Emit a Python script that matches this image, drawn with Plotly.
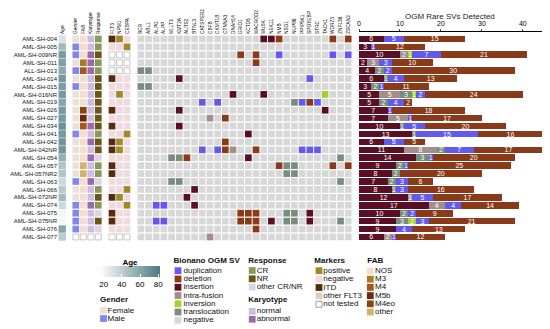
import plotly.graph_objects as go

# ---------------- data ----------------
SAMPLES = ["AML-SH-004", "AML-SH-005", "AML-SH-009NR", "AML-SH-011", "ALL-SH-013",
           "AML-SH-014", "AML-SH-015", "AML-SH-016NR", "AML-SH-019", "AML-SH-026",
           "AML-SH-027", "AML-SH-034", "AML-SH-041", "AML-SH-042", "AML-SH-042NR",
           "AML-SH-054", "AML-SH-057", "AML-SH-057NR2", "AML-SH-063", "AML-SH-066",
           "AML-SH-072NR", "AML-SH-074", "AML-SH-075", "AML-SH-075NR", "AML-SH-076",
           "AML-SH-077"]

AGE = [30, 50, 65, 63, 58, 66, 64, 66, 60, 66, 66, 70, 67, 68, 68, 55, 45, 45, 35, 42,
       50, 35, 20, 20, 60, 42]
GENDER = ["F", "M", "M", "F", "M", "F", "M", "F", "F", "F", "F", "F", "M", "F", "F", "F",
          "F", "F", "M", "F", "F", "M", "M", "M", "M", None]
FAB = ["NOS", "NOS", "NOS", "M3", "M4", "NOS", "NOS", "NOS", "NOS", "M4eo", "M5b", "M4",
       "NOS", "NOS", "NOS", "NOS", "other", "other", "NOS", "NOS", "NOS", "NOS", "NOS",
       "NOS", "NOS", None]
KARYOTYPE = ["normal", "normal", "abnormal", "abnormal", "abnormal", "normal", "normal",
             "normal", "normal", "normal", "normal", "abnormal", "normal", "abnormal",
             "normal", "abnormal", "normal", "normal", "abnormal", "normal", "normal",
             "abnormal", "normal", "normal", "normal", None]
RESPONSE = ["CR", "CR", "NR", "CR", "CR", "NR", "NR", "NR", "NR", "NR", "NR", "NR", "CR",
            "NR", "NR", "other CR/NR", "CR", "CR", "other CR/NR", "CR", "NR", "CR",
            "other CR/NR", "NR", "other CR/NR", None]
FLT3 = ["ITD", "negative", None, None, None, "ITD", "negative", "negative", "negative",
        "ITD", "negative", "ITD", "negative", "ITD", "ITD", "negative", "ITD", "ITD",
        "negative", "negative", "ITD", "negative", "ITD", "ITD", "negative", None]
NPM1 = ["positive", "negative", None, None, None, "negative", "negative", "positive",
        "negative", "negative", "negative", "negative", "negative", "positive", "positive",
        "negative", "negative", "negative", "negative", "negative", "positive", "negative",
        "negative", "negative", "negative", None]
CEBPA = ["negative", "positive", None, None, None, "negative", "negative", "negative",
         "negative", "negative", "negative", "negative", "positive", "negative", "negative",
         "negative", "negative", "negative", "negative", "positive", "negative", "positive",
         "negative", "negative", "negative", None]

GENES = ["BCR", "ABL1", "ALPG", "ALPP", "MLLT3", "KMT2A", "AUTS2", "BTNL3", "CATSPER2",
         "CBFB", "CKMT1B", "CTNNA3", "DNAH14", "GRID1", "KCTD5", "MACROD2", "MUSK",
         "NEK11", "NMB", "NSD1", "NUP98", "PPIP5K1", "SPOYEBP", "STRC", "TACK1", "WDR73",
         "ZNF138", "ZSCAN2"]

# SV calls per sample: gene:type (dup, del, ins, fus = intra-fusion, inv, tra)
SV_CALLS = [
    "MUSK:ins NEK11:ins NMB:del WDR73:del ZSCAN2:del",
    "",
    "GRID1:del MACROD2:del NMB:dup WDR73:dup ZSCAN2:dup",
    "MACROD2:del",
    "BCR:tra ABL1:tra",
    "KMT2A:ins SPOYEBP:dup",
    "BCR:tra ABL1:tra",
    "DNAH14:ins MUSK:ins TACK1:inv",
    "CATSPER2:dup CKMT1B:dup NUP98:tra PPIP5K1:dup SPOYEBP:del STRC:dup",
    "KMT2A:ins TACK1:ins",
    "CBFB:fus CTNNA3:del",
    "KMT2A:ins",
    "KCTD5:ins",
    "CTNNA3:del",
    "CATSPER2:dup CKMT1B:dup CTNNA3:del DNAH14:fus MACROD2:del PPIP5K1:dup SPOYEBP:dup STRC:dup",
    "MLLT3:tra KMT2A:tra AUTS2:del KCTD5:ins ZNF138:tra",
    "NMB:del NSD1:tra NUP98:tra WDR73:del ZSCAN2:del",
    "NSD1:tra NUP98:tra",
    "MLLT3:tra KMT2A:tra ZNF138:tra",
    "BTNL3:ins",
    "AUTS2:ins",
    "ALPG:dup ALPP:dup BTNL3:ins",
    "GRID1:del KCTD5:del MACROD2:del NSD1:tra NUP98:tra SPOYEBP:ins",
    "ALPG:dup ALPP:dup GRID1:del KCTD5:del MACROD2:del NEK11:ins NSD1:tra NUP98:tra SPOYEBP:ins ZNF138:tra",
    "MACROD2:del",
    "CBFB:fus",
]

# OGM rare SV counts per sample (bar chart)
SV_INSERTION = [6, 3, 10, 2, 4, 6, 3, 5, 5, 7, 7, 10, 13, 6, 11, 14, 9, 8, 7, 8, 12, 17, 10, 9, 9, 6]
SV_INTRAFUSION = [0, 0, 2, 3, 0, 0, 0, 5, 0, 0, 5, 0, 0, 0, 8, 0, 0, 0, 0, 0, 1, 4, 0, 0, 0, 2]
SV_TRANSLOCATION = [0, 0, 0, 0, 2, 1, 2, 3, 2, 0, 0, 1, 1, 0, 2, 3, 2, 2, 2, 1, 0, 0, 2, 3, 0, 0]
SV_INVERSION = [0, 0, 1, 0, 0, 0, 0, 1, 0, 0, 0, 0, 0, 0, 0, 0, 0, 0, 0, 0, 0, 0, 0, 2, 0, 0]
SV_DUPLICATION = [5, 1, 7, 3, 2, 4, 1, 2, 4, 1, 1, 5, 15, 5, 7, 1, 1, 0, 3, 3, 5, 4, 2, 3, 4, 1]
SV_DELETION = [15, 12, 21, 10, 30, 13, 11, 24, 2, 18, 17, 20, 16, 5, 17, 20, 25, 20, 6, 16, 17, 14, 9, 21, 13, 12]

AGE_TICKS = [20, 40, 60, 80]
BAR_TICKS = [0, 10, 20, 30, 40]

# ---------------- styles / layout ----------------
FONT = "Liberation Sans, Arial, sans-serif"
OX, OY = 8, 8            # page offset of the plot div (body margin)
FW, FH = 542, 321        # figure size so that it fits the 550x329 window
SV_COLORS = {"duplication": "#6359ee", "deletion": "#8a3a18", "insertion": "#5a0f25",
             "intra-fusion": "#a48d8d", "inversion": "#a3d12f", "translocation": "#798d7d",
             "negative": "#d7d7d7"}
SV_CODE = {"dup": "duplication", "del": "deletion", "ins": "insertion",
           "fus": "intra-fusion", "inv": "inversion", "tra": "translocation"}
GENDER_COLORS = {"F": "#ebe1d9", "M": "#8585ee"}
GENDER_NAMES = {"F": "Female", "M": "Male"}
FAB_COLORS = {"NOS": "#f4dccf", "M3": "#ad7a24", "M4": "#a9561e", "M5b": "#6a2a0c",
              "M4eo": "#874513", "other": "#d3b06c"}
KARYO_COLORS = {"normal": "#cdbde3", "abnormal": "#9c6aaa"}
RESP_COLORS = {"CR": "#8a9a5b", "NR": "#6b5417", "other CR/NR": "#dcd3ea"}
MARKER_COLORS = {"positive": "#a08a28", "negative": "#efdadf", "ITD": "#5a2a0a",
                 "other FLT3": "#d9cfca"}
AGE_SCALE = [[0, "#ffffff"], [1, "#4a7a80"]]


def pxx(px):
    return (px - OX) / FW


def pyy(py):
    return 1 - (py - OY) / FH


n = len(SAMPLES)
ROW_TOP = 35.0
ROW_PITCH = 7.92
GRID_LEFT_PX = 137.0
COL_PITCH = 7.68
CELL = 6.7
GRID_L, GRID_R = 58.0, 356.0


def gx(px):
    return (px - GRID_LEFT_PX) / COL_PITCH - 0.5


AGE_X = gx(62.2)
CLIN_NAMES = ["Gender", "FAB", "Karyotype", "Response"]
CLIN_X = [gx(75.8 + 7.5 * k) for k in range(4)]
MARK_NAMES = ["FLT3", "NPM1", "CEBPA"]
MARK_X = [gx(112.0 + 7.5 * k) for k in range(3)]
GENE_X = list(range(len(GENES)))
rows = list(range(n))

fig = go.Figure()

# Age column
fig.add_trace(go.Scatter(
    x=[AGE_X] * n, y=rows, mode="markers", hoverinfo="skip", showlegend=False,
    marker=dict(symbol="square", size=7.4, color=AGE, colorscale=AGE_SCALE, cmin=16, cmax=82,
                line=dict(width=0),
                colorbar=dict(orientation="h", x=pxx(130), xanchor="center", y=pyy(256.5),
                              yanchor="top", len=60, lenmode="pixels", thickness=11,
                              thicknessmode="pixels", outlinewidth=0, xpad=0, ypad=0,
                              title=dict(text="<b>Age</b>", side="top",
                                         font=dict(size=8, family=FONT, color="black")),
                              tickvals=AGE_TICKS, ticks="inside", tickcolor="white", ticklen=3,
                              tickfont=dict(size=8, family=FONT, color="black"))),
    xaxis="x", yaxis="y"))


def add_column(xval, values, palette):
    for cat, color in palette.items():
        r = [i for i, v in enumerate(values) if v == cat]
        if r:
            fig.add_trace(go.Scatter(x=[xval] * len(r), y=r, mode="markers", hoverinfo="skip",
                                     showlegend=False, xaxis="x", yaxis="y",
                                     marker=dict(symbol="square", size=CELL, color=color,
                                                 line=dict(width=0))))
    r = [i for i, v in enumerate(values) if v is None]
    if r:
        fig.add_trace(go.Scatter(x=[xval] * len(r), y=r, mode="markers", hoverinfo="skip",
                                 showlegend=False, xaxis="x", yaxis="y",
                                 marker=dict(symbol="square", size=CELL - 0.8, color="white",
                                             line=dict(width=0.7, color="#b0b0b0"))))


add_column(CLIN_X[0], GENDER, GENDER_COLORS)
add_column(CLIN_X[1], FAB, FAB_COLORS)
add_column(CLIN_X[2], KARYOTYPE, KARYO_COLORS)
add_column(CLIN_X[3], RESPONSE, RESP_COLORS)
add_column(MARK_X[0], FLT3, MARKER_COLORS)
add_column(MARK_X[1], NPM1, MARKER_COLORS)
add_column(MARK_X[2], CEBPA, MARKER_COLORS)

# gene grid
grid = [["negative"] * len(GENES) for _ in range(n)]
for i, calls in enumerate(SV_CALLS):
    for item in calls.split():
        g, t = item.split(":")
        grid[i][GENES.index(g)] = SV_CODE[t]
for cat, color in SV_COLORS.items():
    xs, ys = [], []
    for i in range(n):
        for j in range(len(GENES)):
            if grid[i][j] == cat:
                xs.append(GENE_X[j])
                ys.append(i)
    fig.add_trace(go.Scatter(x=xs, y=ys, mode="markers", hoverinfo="skip", showlegend=False,
                             xaxis="x", yaxis="y",
                             marker=dict(symbol="square", size=CELL, color=color,
                                         line=dict(width=0))))

# stacked bars
for name, vals in [("insertion", SV_INSERTION), ("intra-fusion", SV_INTRAFUSION),
                   ("translocation", SV_TRANSLOCATION), ("inversion", SV_INVERSION),
                   ("duplication", SV_DUPLICATION), ("deletion", SV_DELETION)]:
    fig.add_trace(go.Bar(
        y=rows, x=vals, orientation="h", name=name, showlegend=False, hoverinfo="skip",
        marker=dict(color=SV_COLORS[name], line=dict(width=0)),
        text=[str(v) if v else "" for v in vals], textposition="inside",
        insidetextanchor="middle", constraintext="none", textangle=0,
        textfont=dict(size=7, color="white", family=FONT),
        xaxis="x2", yaxis="y2"))

# legend blocks (drawn on an overlay axis in page-pixel units)
LEGENDS = [
    ("Gender", 100.0, 300.0, 103.5, 107.5, 310.5, 8.0,
     [(GENDER_NAMES[k], c, False) for k, c in GENDER_COLORS.items()]),
    ("Bionano OGM SV", 173.5, 261.0, 178.0, 183.5, 270.7, 8.27,
     [(k, c, False) for k, c in SV_COLORS.items()]),
    ("Response", 248.3, 261.0, 252.2, 256.7, 270.5, 8.3,
     [(k, c, False) for k, c in RESP_COLORS.items()]),
    ("Karyotype", 248.3, 300.3, 252.2, 256.7, 311.3, 8.0,
     [(k, c, False) for k, c in KARYO_COLORS.items()]),
    ("Markers", 314.3, 261.0, 319.0, 323.3, 270.7, 8.4,
     [(k, c, False) for k, c in MARKER_COLORS.items()] + [("not tested", "white", True)]),
    ("FAB", 367.3, 261.0, 370.3, 375.0, 271.0, 8.2,
     [(k, c, False) for k, c in FAB_COLORS.items()]),
]
tx, ty, tt = [], [], []
for title, tx0, ty0, sx, lx, y0, dy, items in LEGENDS:
    tx.append(tx0)
    ty.append(ty0)
    tt.append("<b>%s</b>" % title)
    for k, (label, color, outline) in enumerate(items):
        yy = y0 + dy * k
        fig.add_trace(go.Scatter(
            x=[sx], y=[yy], mode="markers", hoverinfo="skip", showlegend=False,
            xaxis="x3", yaxis="y3",
            marker=dict(symbol="square", size=6.8 if not outline else 6.0, color=color,
                        line=dict(width=0.8 if outline else 0, color="#888888"))))
        tx.append(lx)
        ty.append(yy)
        tt.append(label)
fig.add_trace(go.Scatter(x=tx, y=ty, text=tt, mode="text", textposition="middle right",
                         hoverinfo="skip", showlegend=False, xaxis="x3", yaxis="y3",
                         textfont=dict(size=8, family=FONT, color="#111111")))

grid_bottom = ROW_TOP + n * ROW_PITCH
bar_top_px = 32.0
fig.update_layout(
    width=FW, height=FH, margin=dict(l=0, r=0, t=0, b=0, autoexpand=False),
    paper_bgcolor="white", plot_bgcolor="rgba(0,0,0,0)",
    font=dict(family=FONT, color="black"),
    barmode="stack", bargap=0.16, showlegend=False,
    xaxis=dict(domain=[pxx(GRID_L), pxx(GRID_R)], range=[gx(GRID_L), gx(GRID_R)], anchor="y",
               side="top", tickvals=[AGE_X] + CLIN_X + MARK_X + GENE_X,
               ticktext=["Age"] + CLIN_NAMES + MARK_NAMES + GENES,
               tickangle=-90, tickfont=dict(size=4.8, family=FONT), ticks="", showgrid=False,
               zeroline=False, showline=False, automargin=False),
    yaxis=dict(domain=[pyy(grid_bottom), pyy(ROW_TOP)], range=[n - 0.5, -0.5],
               anchor="x", tickvals=rows, ticktext=SAMPLES,
               tickfont=dict(size=6.0, family=FONT, color="#111111"),
               ticks="", showgrid=False, zeroline=False, showline=False, automargin=False),
    xaxis2=dict(domain=[pxx(359), pxx(547)], range=[0, 45.9], anchor="y2", side="top",
                tickvals=BAR_TICKS, tickfont=dict(size=7, family=FONT), ticks="outside",
                ticklen=2, showline=True, linecolor="black", linewidth=1, showgrid=False,
                zeroline=False, automargin=False),
    yaxis2=dict(domain=[pyy(grid_bottom), pyy(bar_top_px)],
                range=[n - 0.5, -0.5 - (ROW_TOP - bar_top_px) / ROW_PITCH], anchor="x2",
                visible=False),
    xaxis3=dict(domain=[0, 1], range=[OX, OX + FW], anchor="y3", visible=False),
    yaxis3=dict(domain=[0, 1], range=[OY + FH, OY], anchor="x3", visible=False),
    annotations=[dict(text="OGM Rare SVs Detected", x=pxx(450), y=pyy(16.5), xref="paper",
                      yref="paper", showarrow=False, xanchor="center", yanchor="middle",
                      font=dict(size=8, family=FONT, color="#222222"))],
)

fig.write_html("out.html")
